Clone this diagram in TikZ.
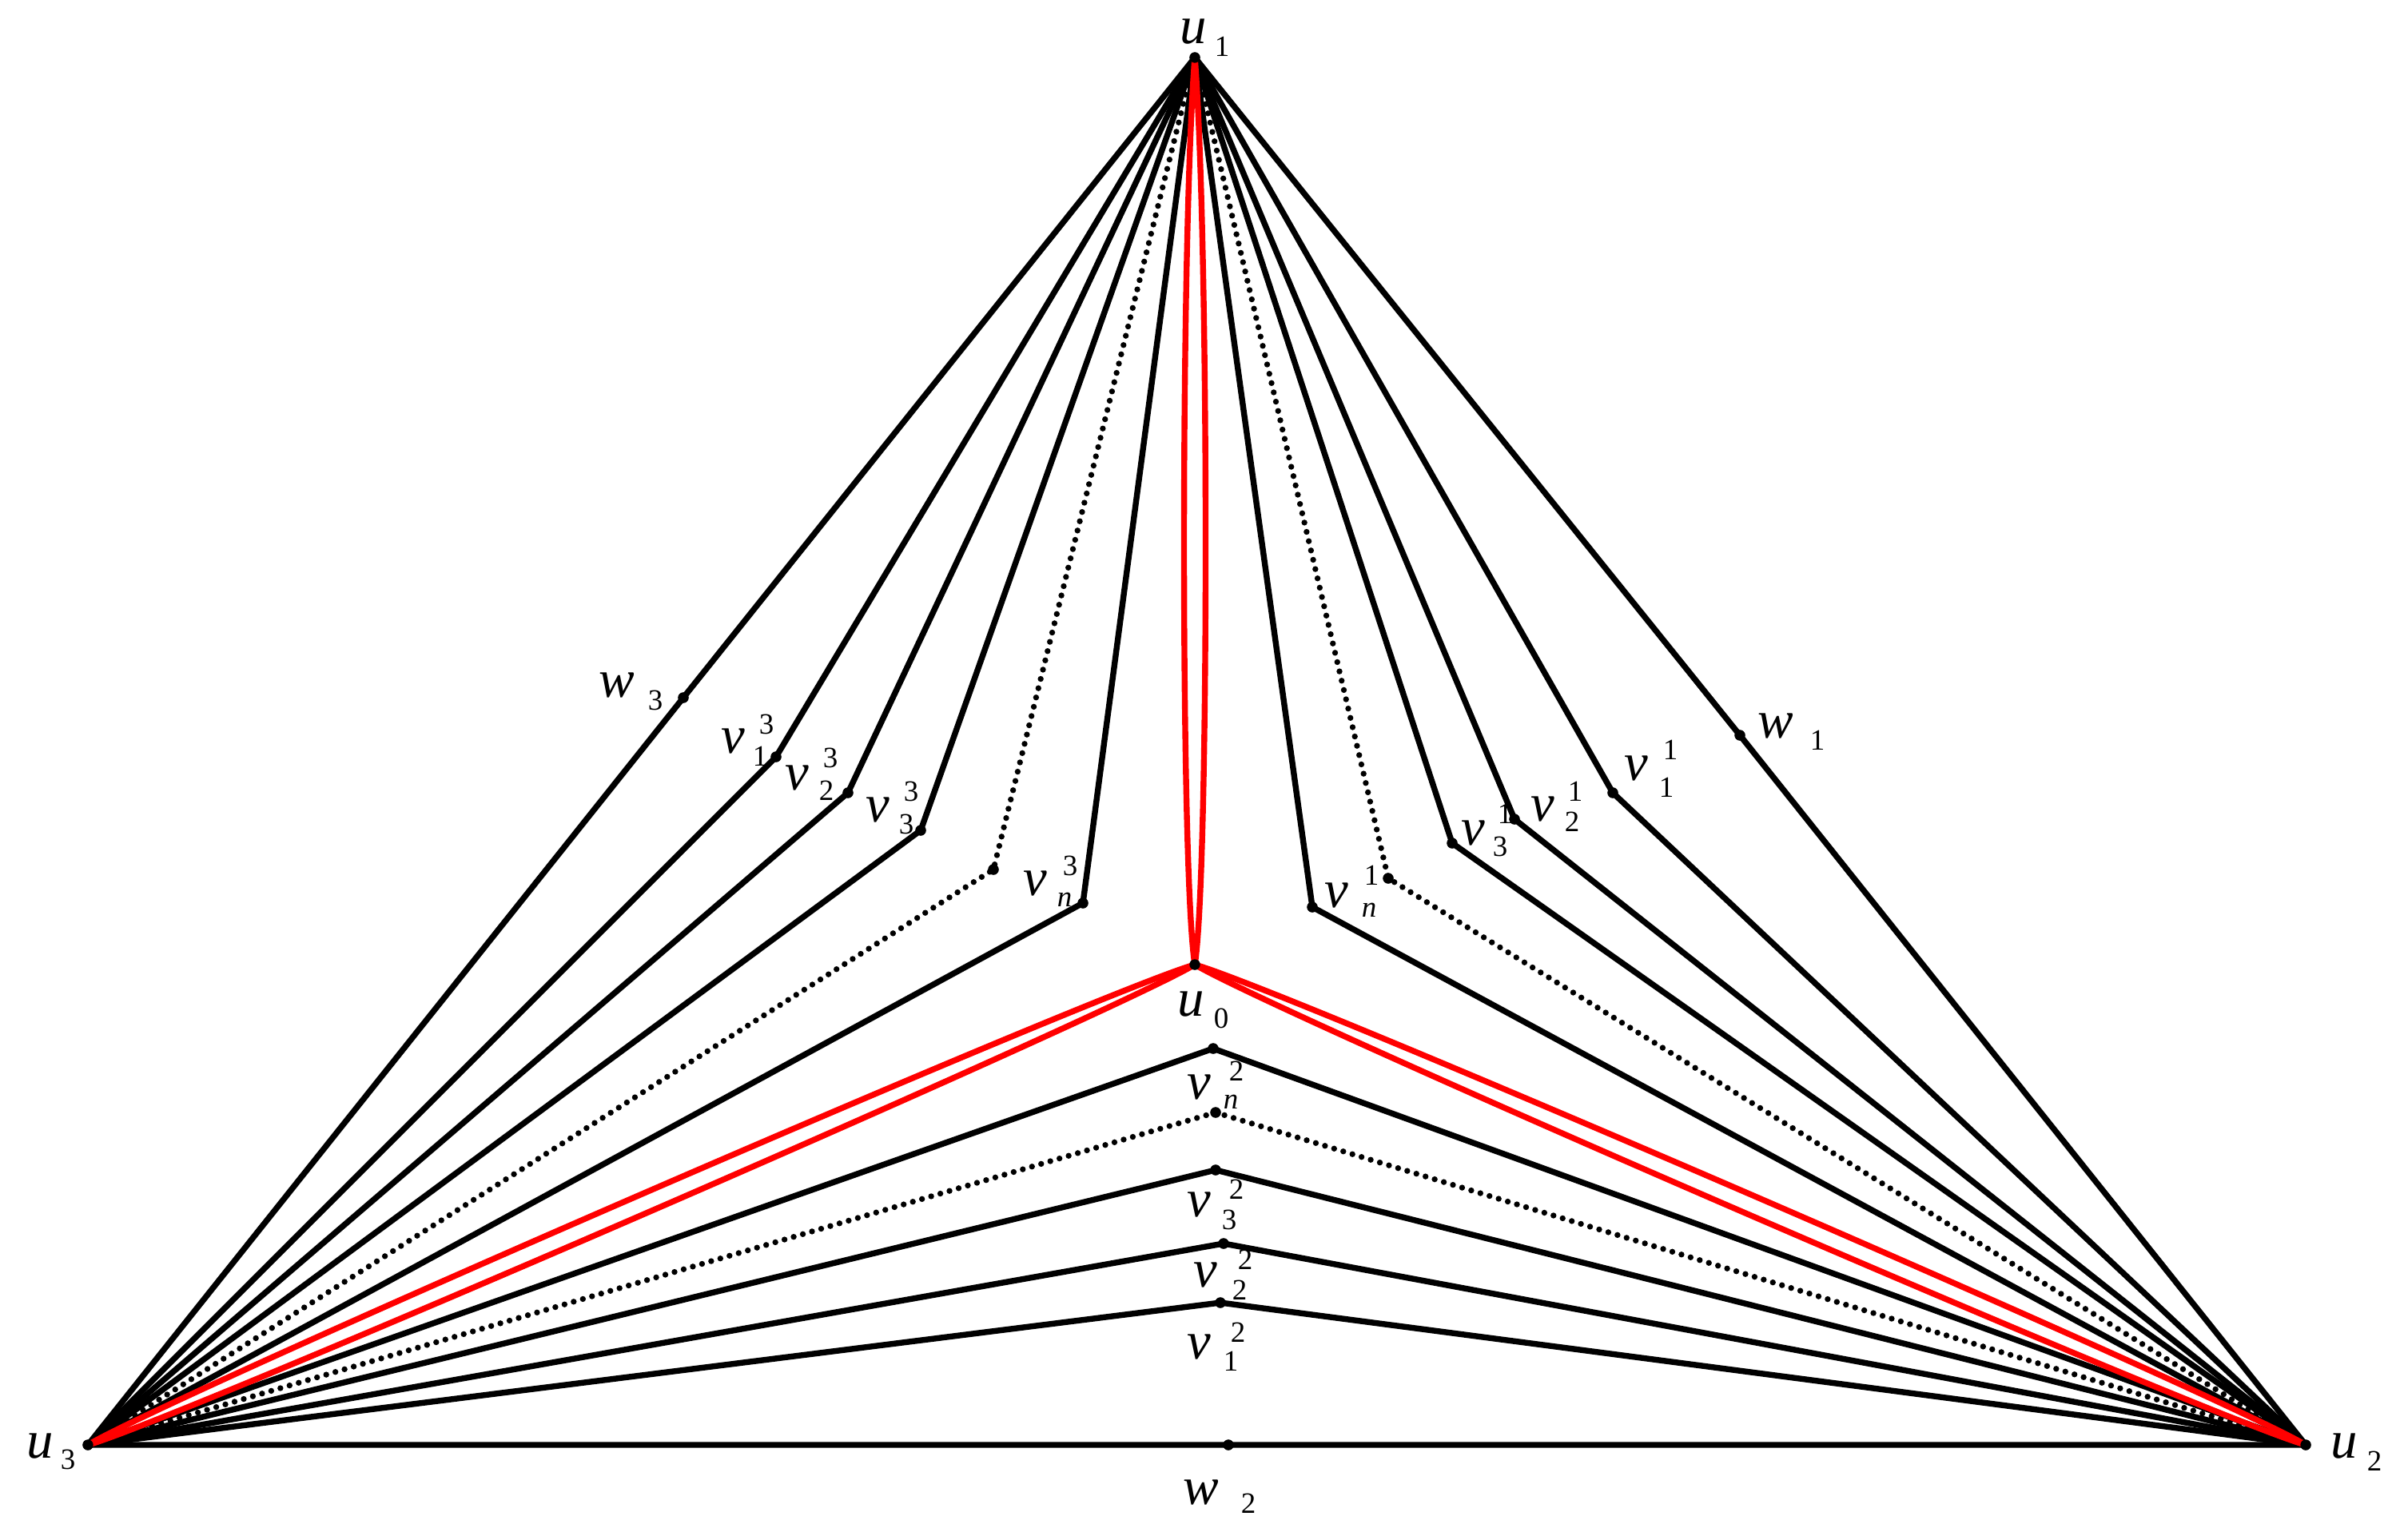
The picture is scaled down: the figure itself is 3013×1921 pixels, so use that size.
\documentclass[tikz,border=0pt]{standalone}
\usepackage{fontspec}
\setmainfont{Liberation Serif}
\newfontfamily\lbit{Liberation Serif Italic}
\usetikzlibrary{calc}
\tikzset{
  edge/.style={line width=2.1pt, line join=round, line cap=round},
  dotline/.style={line width=2.1pt, line cap=round, dash pattern=on 0pt off 3.4pt},
  redge/.style={red, line width=2.1pt, line cap=round},
  vtx/.style={circle, fill=black, inner sep=0pt, minimum size=3.7pt},
  big/.style={font=\lbit\fontsize{19}{19}\selectfont, inner sep=0pt},
  idx/.style={font=\fontsize{10.5}{10.5}\selectfont, inner sep=0pt},
  idn/.style={font=\lbit\fontsize{10.5}{10.5}\selectfont, inner sep=0pt}
}
\begin{document}
\begin{tikzpicture}[x=0.01cm,y=-0.01cm]
\useasboundingbox (0,0) rectangle (3013,1921);
% vertices
\node[vtx] (u1) at (1495,72) {};
\node[vtx] (u0) at (1495,1207) {};
\node[vtx] (u3) at (110,1808) {};
\node[vtx] (u2) at (2885,1808) {};
\node[vtx] (w1) at (2177,920) {};
\node[vtx] (w2) at (1537,1808) {};
\node[vtx] (w3) at (855,873) {};
\node[vtx] (v13) at (971,947) {};
\node[vtx] (v23) at (1061,992) {};
\node[vtx] (v33) at (1152,1039) {};
\node[vtx] (d3) at (1243,1088) {};
\node[vtx] (vn3) at (1355,1130) {};
\node[vtx] (vn1) at (1642,1135) {};
\node[vtx] (d1) at (1737,1099) {};
\node[vtx] (v31) at (1817,1055) {};
\node[vtx] (v21) at (1895,1025) {};
\node[vtx] (v11) at (2018,992) {};
\node[vtx] (vn2) at (1518,1312) {};
\node[vtx] (d2) at (1521,1392) {};
\node[vtx] (v32) at (1521,1464) {};
\node[vtx] (v22) at (1531,1556) {};
\node[vtx] (v12) at (1527,1630) {};
% outer triangle
\draw[edge] (u1.center) -- (w3.center) -- (u3.center) -- (w2.center) -- (u2.center) -- (w1.center) -- (u1.center);
% side 3
\draw[edge] (u1.center) -- (v13.center) -- (u3.center);
\draw[edge] (u1.center) -- (v23.center) -- (u3.center);
\draw[edge] (u1.center) -- (v33.center) -- (u3.center);
\draw[dotline] (u1.center) -- (d3.center) -- (u3.center);
\draw[edge] (u1.center) -- (vn3.center) -- (u3.center);
% side 1
\draw[edge] (u1.center) -- (v11.center) -- (u2.center);
\draw[edge] (u1.center) -- (v21.center) -- (u2.center);
\draw[edge] (u1.center) -- (v31.center) -- (u2.center);
\draw[dotline] (u1.center) -- (d1.center) -- (u2.center);
\draw[edge] (u1.center) -- (vn1.center) -- (u2.center);
% side 2
\draw[edge] (u3.center) -- (v12.center) -- (u2.center);
\draw[edge] (u3.center) -- (v22.center) -- (u2.center);
\draw[edge] (u3.center) -- (v32.center) -- (u2.center);
\draw[dotline] (u3.center) -- (d2.center) -- (u2.center);
\draw[edge] (u3.center) -- (vn2.center) -- (u2.center);
% red double edges
\foreach \a in {90,-90}{
  \draw[redge] (u1.center) .. controls ($(u1)!0.2!(u0)!0.18cm!\a:(u0)$) and ($(u1)!0.9!(u0)!0.18cm!\a:(u0)$) .. (u0.center);
  \draw[redge] (u0.center) .. controls ($(u0)!0.08!(u3)!0.16cm!\a:(u3)$) and ($(u0)!0.92!(u3)!0.16cm!\a:(u3)$) .. (u3.center);
  \draw[redge] (u0.center) .. controls ($(u0)!0.08!(u2)!0.16cm!\a:(u2)$) and ($(u0)!0.92!(u2)!0.16cm!\a:(u2)$) .. (u2.center);
}
% dots on top
\foreach \n in {u1,u0,u3,u2,w1,w2,w3,v13,v23,v33,d3,vn3,vn1,d1,v31,v21,v11,vn2,d2,v32,v22,v12}
  \fill (\n.center) circle (1.9pt);
% labels
\node[big] (Lu1) at (1493,40) {u};  \node[idx] (Lu1s) at (1529,58) {1};
\node[big] (Lu0) at (1490,1257) {u}; \node[idx] (Lu0s) at (1528,1274) {0};
\node[big] (Lu3) at (50,1810) {u};  \node[idx] (Lu3s) at (85,1826) {3};
\node[big] (Lu2) at (2933,1810) {u}; \node[idx] (Lu2s) at (2971,1828) {2};
\node[big] (Lw1) at (2222,908) {w}; \node[idx] (Lw1s) at (2274,926) {1};
\node[big] (Lw2) at (1503,1867) {w}; \node[idx] (Lw2s) at (1562,1881) {2};
\node[big] (Lw3) at (772,857) {w};  \node[idx] (Lw3s) at (820,876) {3};
% v^3
\node[big] (Lv13) at (917,927) {v}; \node[idx] (Lv13a) at (959,906) {3}; \node[idx] (Lv13b) at (951,946) {1};
\node[big] (Lv23) at (997,973) {v}; \node[idx] (Lv23a) at (1039,948) {3}; \node[idx] (Lv23b) at (1034,989) {2};
\node[big] (Lv33) at (1098,1013) {v}; \node[idx] (Lv33a) at (1140,990) {3}; \node[idx] (Lv33b) at (1134,1031) {3};
\node[big] (Lvn3) at (1295,1105) {v}; \node[idx] (Lvn3a) at (1339,1083) {3}; \node[idn] (Lvn3b) at (1332,1126) {n};
% v^1
\node[big] (Lvn1) at (1672,1120) {v}; \node[idx] (Lvn1a) at (1716,1095) {1}; \node[idn] (Lvn1b) at (1713,1139) {n};
\node[big] (Lv31) at (1843,1042) {v}; \node[idx] (Lv31a) at (1883,1018) {1}; \node[idx] (Lv31b) at (1877,1059) {3};
\node[big] (Lv21) at (1930,1012) {v}; \node[idx] (Lv21a) at (1971,990) {1}; \node[idx] (Lv21b) at (1967,1028) {2};
\node[big] (Lv11) at (2047,961) {v}; \node[idx] (Lv11a) at (2090,938) {1}; \node[idx] (Lv11b) at (2085,985) {1};
% v^2
\node[big] (Lvn2) at (1500,1360) {v}; \node[idx] (Lvn2a) at (1547,1340) {2}; \node[idn] (Lvn2b) at (1540,1379) {n};
\node[big] (Lv32) at (1500,1507) {v}; \node[idx] (Lv32a) at (1547,1488) {2}; \node[idx] (Lv32b) at (1538,1526) {3};
\node[big] (Lv22) at (1508,1595) {v}; \node[idx] (Lv22a) at (1558,1576) {2}; \node[idx] (Lv22b) at (1551,1614) {2};
\node[big] (Lv12) at (1500,1685) {v}; \node[idx] (Lv12a) at (1549,1667) {2}; \node[idx] (Lv12b) at (1540,1703) {1};
\end{tikzpicture}
\end{document}
